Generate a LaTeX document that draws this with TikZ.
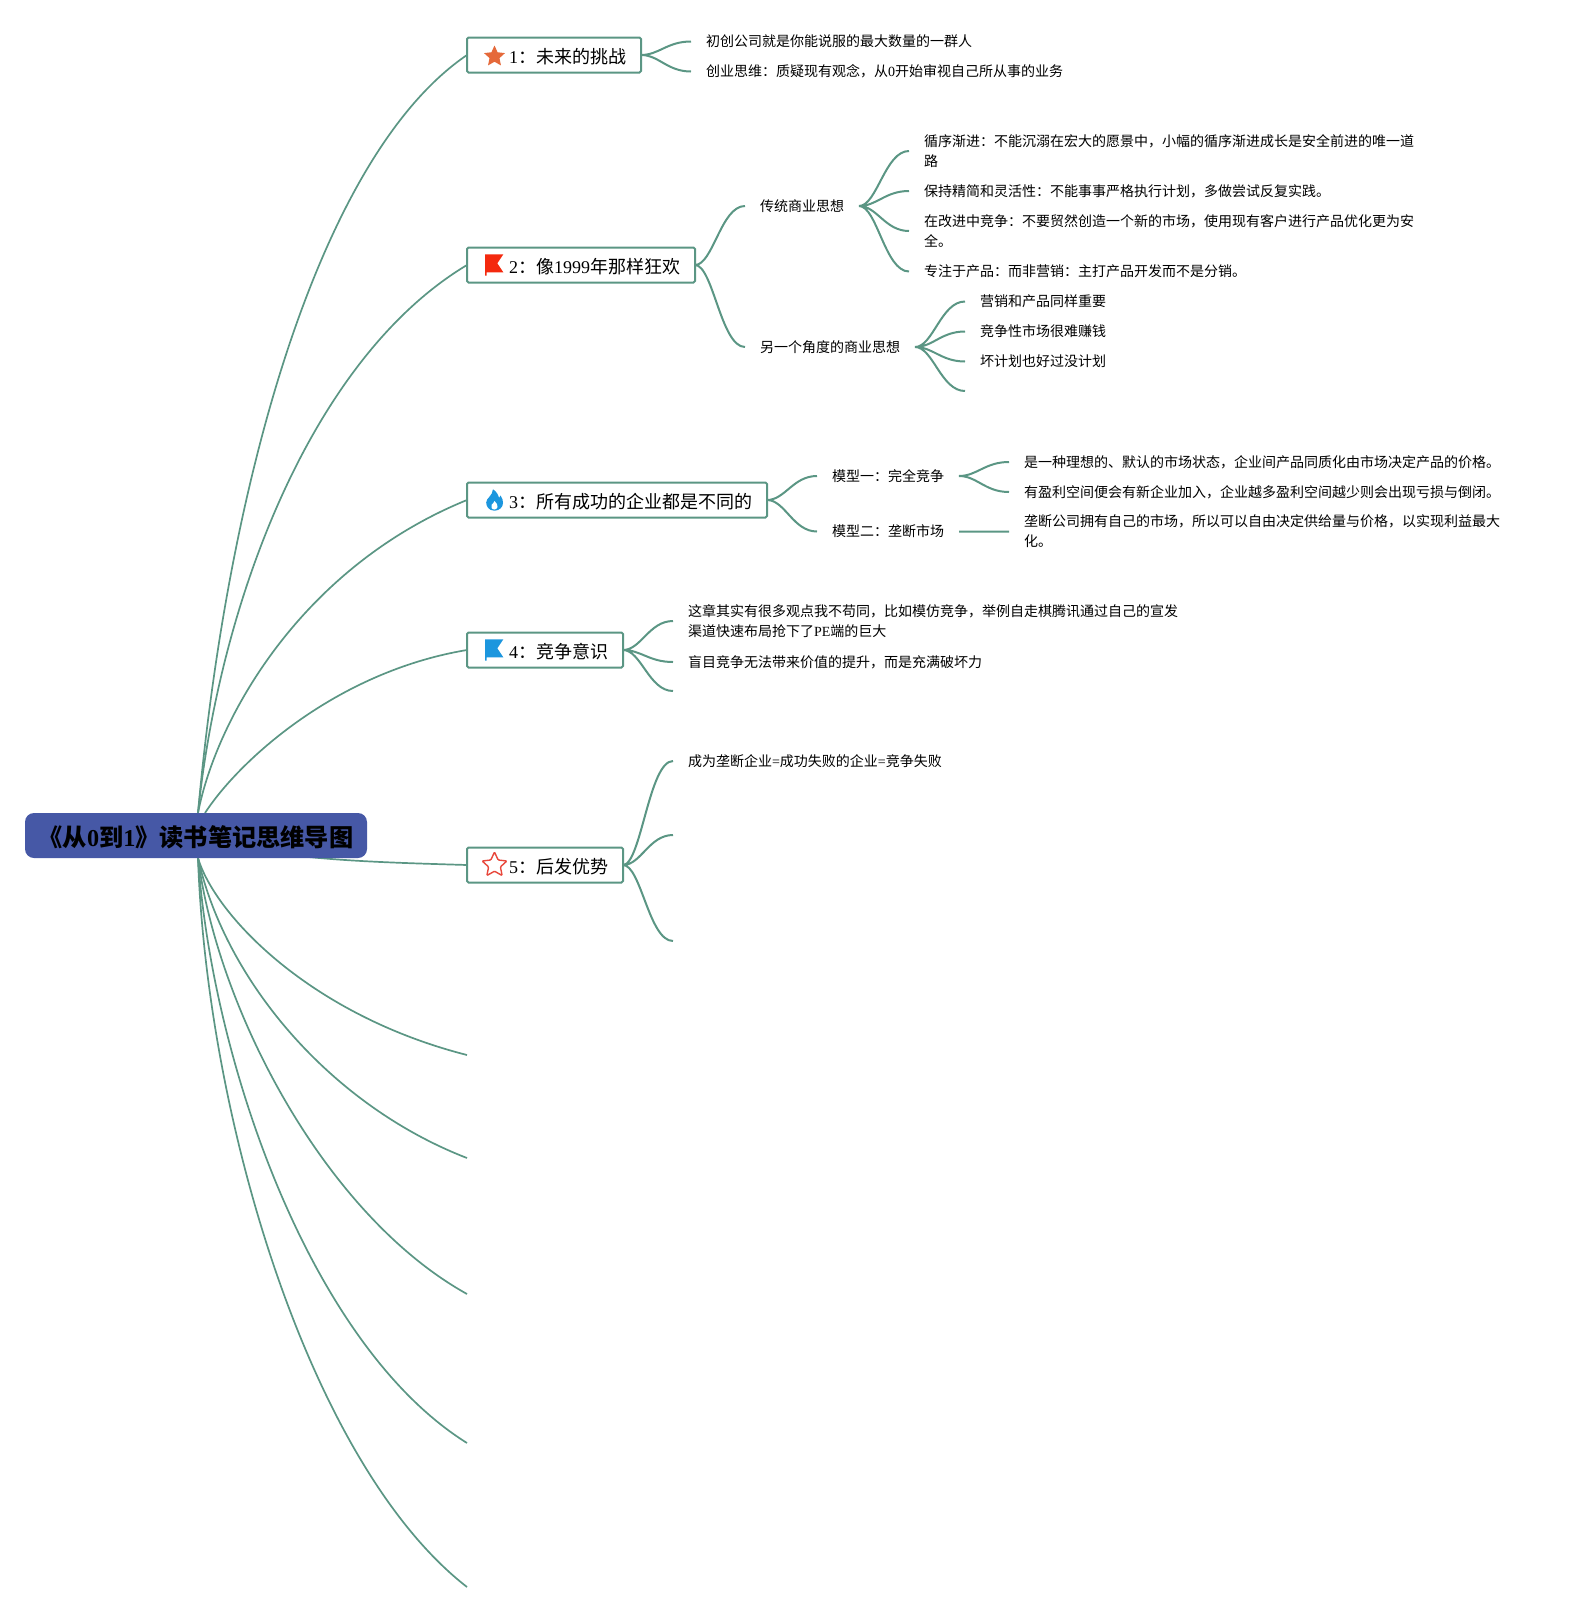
\documentclass[tikz,border=0pt]{standalone}
\usepackage{fontspec}
\setmainfont{Noto Sans CJK SC}
\newfontfamily\latinfont{Liberation Serif}
\newcommand\lat[1]{{\latinfont #1}}
\usetikzlibrary{backgrounds,shapes.geometric}
\definecolor{stemgreen}{HTML}{5B9684}
\definecolor{rootblue}{HTML}{4658A6}
\definecolor{flagblue}{HTML}{1C96DE}
\definecolor{flagred}{HTML}{F4290E}
\definecolor{starorange}{HTML}{E5693A}
\definecolor{starred}{HTML}{E8483C}
\tikzset{
  rootlink/.style={draw=stemgreen,line width=1.7pt},
  fan/.style={draw=stemgreen,line width=2pt,to path={.. controls +(18,0) and +(-24,0) .. (\tikztotarget)}},
  topicbox/.style={draw=stemgreen,line width=2pt,fill=white,rounded corners=1.5pt,anchor=west,inner xsep=15pt,
    inner ysep=0pt,minimum height=35pt,outer sep=0pt,text height=20.8pt,text depth=3pt,font=\fontsize{18}{22}\selectfont},
  noteleaf/.style={anchor=west,inner xsep=15pt,inner ysep=0pt,outer sep=0pt,align=left,font=\fontsize{14}{20}\selectfont},
  badge/.style={star,star points=5,star point ratio=2.1,inner sep=0pt,outer sep=0pt},
}
\begin{document}
\begin{tikzpicture}[x=1pt,y=-1pt]
\useasboundingbox (0,0) rectangle (1584,1612);

% centre and topics
\node (root) [fill=rootblue,rounded corners=9pt,minimum width=342pt,minimum height=45pt,inner sep=0pt,outer sep=0pt,
  text height=25.6pt,text depth=3pt,font=\fontsize{24.2}{28}\bfseries\selectfont] at (196,835.5) {《从\lat{0}到\lat{1}》读书笔记思维导图};
\coordinate (rootup) at ([xshift=2pt]root.north);
\coordinate (rootdown) at ([xshift=2pt]root.south);
\node (t1) [topicbox] at (467,55) {\hspace*{27pt}\lat{1}：未来的挑战};
\node (t2) [topicbox] at (467,265) {\hspace*{27pt}\lat{2}：像\lat{1999}年那样狂欢};
\node (t3) [topicbox] at (467,500) {\hspace*{27pt}\lat{3}：所有成功的企业都是不同的};
\node (t4) [topicbox] at (467,650) {\hspace*{27pt}\lat{4}：竞争意识};
\node (t5) [topicbox] at (467,865) {\hspace*{27pt}\lat{5}：后发优势};
\coordinate (t6) at (467,1055);
\coordinate (t7) at (467,1158);
\coordinate (t8) at (467,1294);
\coordinate (t9) at (467,1443);
\coordinate (t10) at (467,1587);

% big curves
\begin{pgfonlayer}{background}
\draw[rootlink] (rootup) .. controls (228,480) and (320,155) .. (t1.west);
\draw[rootlink] (rootup) .. controls (220,600) and (312,358) .. (t2.west);
\draw[rootlink] (rootup) .. controls (216,720) and (300,568) .. (t3.west);
\draw[rootlink] ([xshift=9pt]root.north) .. controls (238,762) and (335,672) .. (t4.west);
\draw[rootlink] (root.center) .. controls (270,860) and (370,862) .. (t5.west);
\draw[rootlink] (rootdown) .. controls (215,915) and (310,1015) .. (t6);
\draw[rootlink] (rootdown) .. controls (225,980) and (330,1105) .. (t7);
\draw[rootlink] (rootdown) .. controls (218,1010) and (325,1215) .. (t8);
\draw[rootlink] (rootdown) .. controls (212,1060) and (310,1345) .. (t9);
\draw[rootlink] (rootdown) .. controls (207,1120) and (310,1465) .. (t10);
\end{pgfonlayer}

% badges
\node (star1) [badge,fill=starorange,minimum size=22pt] at ([xshift=27.5pt,yshift=-1.5pt]t1.west) {};
\fill[flagred] (485,254.3) -- (503.3,254.3) -- (497.3,263.3) -- (503.3,272.3) -- (486.7,272.3) -- (486.7,275.7) -- (485,275.7) -- cycle;
\fill[flagblue] (485,639.3) -- (503.3,639.3) -- (497.3,648.3) -- (503.3,657.3) -- (486.7,657.3) -- (486.7,660.7) -- (485,660.7) -- cycle;
\fill[flagblue] (494.5,510.7) .. controls (488.5,510.7) and (486.2,506) .. (486.2,502.5)
  .. controls (486.2,498) and (492.5,496) .. (493,489.3) .. controls (496.5,491.5) and (498.5,495) .. (499,498)
  .. controls (500,497.5) and (500.5,496.5) .. (500.5,495.5) .. controls (502.5,498) and (503,501) .. (503,503)
  .. controls (503,507) and (499.5,510.7) .. (494.5,510.7) -- cycle;
\fill[white] (494.5,509.5) .. controls (491.5,509.5) and (490.5,507) .. (491.5,505) .. controls (492.5,503.5) and (494,503) .. (494.5,501)
  .. controls (496.5,503) and (498,505) .. (497.5,507) .. controls (497,508.5) and (496,509.5) .. (494.5,509.5) -- cycle;
\node (star5) [badge,draw=starred,fill=white,line width=1.4pt,rounded corners=1pt,minimum size=26pt] at ([xshift=27.5pt]t5.west) {};

% topic 1
\node (n11) [noteleaf] at (691,41.5) {初创公司就是你能说服的最大数量的一群人};
\node (n12) [noteleaf] at (691,71.5) {创业思维：质疑现有观念，从\lat{0}开始审视自己所从事的业务};
\draw[fan] (t1.east) to (n11.west) (t1.east) to (n12.west);

% topic 2
\node (s21) [noteleaf] at (745,206) {传统商业思想};
\node (s22) [noteleaf] at (745,347) {另一个角度的商业思想};
\draw[fan] (t2.east) to (s21.west) (t2.east) to (s22.west);
\node (n211) [noteleaf] at (909,151) {循序渐进：不能沉溺在宏大的愿景中，小幅的循序渐进成长是安全前进的唯一道\\路};
\node (n212) [noteleaf] at (909,191) {保持精简和灵活性：不能事事严格执行计划，多做尝试反复实践。};
\node (n213) [noteleaf] at (909,231) {在改进中竞争：不要贸然创造一个新的市场，使用现有客户进行产品优化更为安\\全。};
\node (n214) [noteleaf] at (909,271.5) {专注于产品：而非营销：主打产品开发而不是分销。};
\draw[fan] (s21.east) to (n211.west) (s21.east) to (n212.west) (s21.east) to (n213.west) (s21.east) to (n214.west);
\node (n221) [noteleaf] at (965,301.5) {营销和产品同样重要};
\node (n222) [noteleaf] at (965,331.5) {竞争性市场很难赚钱};
\node (n223) [noteleaf] at (965,361.5) {坏计划也好过没计划};
\coordinate (n224) at (965,391);
\draw[fan] (s22.east) to (n221.west) (s22.east) to (n222.west) (s22.east) to (n223.west) (s22.east) to (n224);

% topic 3
\node (s31) [noteleaf] at (817,476) {模型一：完全竞争};
\node (s32) [noteleaf] at (817,531.5) {模型二：垄断市场};
\draw[fan] (t3.east) to (s31.west) (t3.east) to (s32.west);
\node (n311) [noteleaf] at (1009,462) {是一种理想的、默认的市场状态，企业间产品同质化由市场决定产品的价格。};
\node (n312) [noteleaf] at (1009,492) {有盈利空间便会有新企业加入，企业越多盈利空间越少则会出现亏损与倒闭。};
\node (n321) [noteleaf] at (1009,531.5) {垄断公司拥有自己的市场，所以可以自由决定供给量与价格，以实现利益最大\\化。};
\draw[fan] (s31.east) to (n311.west) (s31.east) to (n312.west) (s32.east) to (n321.west);

% topic 4
\node (n41) [noteleaf] at (673,621) {这章其实有很多观点我不苟同，比如模仿竞争，举例自走棋腾讯通过自己的宣发\\渠道快速布局抢下了\lat{PE}端的巨大};
\node (n42) [noteleaf] at (673,662) {盲目竞争无法带来价值的提升，而是充满破坏力};
\coordinate (n43) at (673,691);
\draw[fan] (t4.east) to (n41.west) (t4.east) to (n42.west) (t4.east) to (n43);

% topic 5
\node (n51) [noteleaf] at (673,761) {成为垄断企业\lat{=}成功失败的企业\lat{=}竞争失败};
\coordinate (n52) at (673,835);
\coordinate (n53) at (673,941);
\draw[fan] (t5.east) to (n51.west) (t5.east) to (n52) (t5.east) to (n53);
\end{tikzpicture}
\end{document}
